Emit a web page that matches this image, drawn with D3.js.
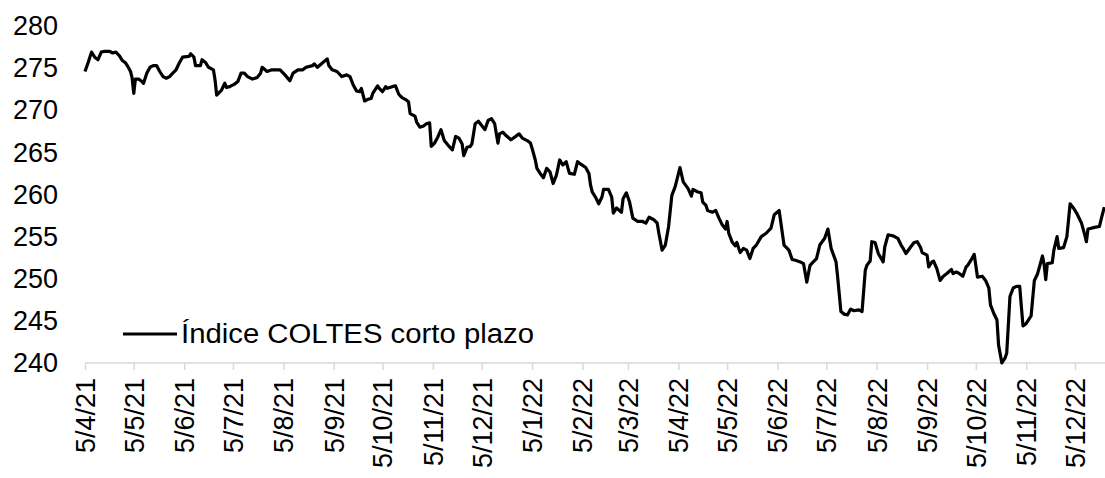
<!DOCTYPE html>
<html><head><meta charset="utf-8">
<script src="https://cdn.jsdelivr.net/npm/d3@7"></script>
<style>body{margin:0;background:#fff} svg text{font-family:"Liberation Sans",Arial,sans-serif;fill:#000}</style>
</head><body><svg id="c" width="1105" height="478"></svg>
<script>
const seriesName = "Índice COLTES corto plazo";
const dates = [
"2021-04-05","2021-04-07","2021-04-09","2021-04-11","2021-04-13","2021-04-15","2021-04-17","2021-04-20","2021-04-22","2021-04-24",
"2021-04-26","2021-04-28","2021-04-30","2021-05-01","2021-05-03","2021-05-04","2021-05-05","2021-05-06","2021-05-08","2021-05-10",
"2021-05-11","2021-05-13","2021-05-15","2021-05-17","2021-05-19","2021-05-21","2021-05-23","2021-05-25","2021-05-27","2021-05-29",
"2021-05-31","2021-06-02","2021-06-04","2021-06-08","2021-06-09","2021-06-11","2021-06-12","2021-06-15","2021-06-16","2021-06-18",
"2021-06-20","2021-06-23","2021-06-24","2021-06-25","2021-06-28","2021-06-30","2021-07-01","2021-07-03","2021-07-06","2021-07-08",
"2021-07-10","2021-07-12","2021-07-14","2021-07-17","2021-07-20","2021-07-22","2021-07-23","2021-07-26","2021-07-29","2021-08-03",
"2021-08-06","2021-08-09","2021-08-11","2021-08-14","2021-08-17","2021-08-19","2021-08-23","2021-08-24","2021-08-26","2021-08-29",
"2021-09-01","2021-09-02","2021-09-04","2021-09-07","2021-09-10","2021-09-13","2021-09-15","2021-09-17","2021-09-19","2021-09-21",
"2021-09-22","2021-09-24","2021-09-26","2021-09-28","2021-09-29","2021-10-02","2021-10-03","2021-10-05","2021-10-07","2021-10-08",
"2021-10-11","2021-10-13","2021-10-15","2021-10-17","2021-10-19","2021-10-21","2021-10-22","2021-10-25","2021-10-26","2021-10-28",
"2021-10-30","2021-11-01","2021-11-03","2021-11-04","2021-11-06","2021-11-08","2021-11-10","2021-11-12","2021-11-15","2021-11-17",
"2021-11-19","2021-11-21","2021-11-23","2021-11-24","2021-11-26","2021-11-28","2021-11-29","2021-12-01","2021-12-03","2021-12-05",
"2021-12-07","2021-12-09","2021-12-11","2021-12-13","2021-12-15","2021-12-16","2021-12-18","2021-12-20","2021-12-23","2021-12-26",
"2021-12-28","2021-12-30","2022-01-02","2022-01-04","2022-01-05","2022-01-07","2022-01-08","2022-01-10","2022-01-12","2022-01-14",
"2022-01-16","2022-01-18","2022-01-20","2022-01-22","2022-01-24","2022-01-26","2022-01-28","2022-01-31","2022-02-02","2022-02-04",
"2022-02-07","2022-02-09","2022-02-10","2022-02-11","2022-02-13","2022-02-15","2022-02-17","2022-02-18","2022-02-21","2022-02-23",
"2022-02-24","2022-02-26","2022-03-01","2022-03-02","2022-03-04","2022-03-06","2022-03-08","2022-03-11","2022-03-14","2022-03-16",
"2022-03-18","2022-03-21","2022-03-23","2022-03-24","2022-03-26","2022-03-28","2022-03-30","2022-04-01","2022-04-03","2022-04-06",
"2022-04-08","2022-04-11","2022-04-13","2022-04-14","2022-04-17","2022-04-19","2022-04-20","2022-04-22","2022-04-23","2022-04-26",
"2022-04-28","2022-04-30","2022-05-02","2022-05-04","2022-05-05","2022-05-06","2022-05-08","2022-05-10","2022-05-11","2022-05-13",
"2022-05-15","2022-05-17","2022-05-19","2022-05-21","2022-05-23","2022-05-26","2022-05-29","2022-06-01","2022-06-03","2022-06-06",
"2022-06-09","2022-06-12","2022-06-14","2022-06-16","2022-06-19","2022-06-21","2022-06-23","2022-06-25","2022-06-27","2022-06-29",
"2022-07-01","2022-07-04","2022-07-06","2022-07-08","2022-07-11","2022-07-12","2022-07-14","2022-07-16","2022-07-18","2022-07-20",
"2022-07-22","2022-07-25","2022-07-27","2022-07-29","2022-07-30","2022-08-01","2022-08-02","2022-08-04","2022-08-06","2022-08-09",
"2022-08-10","2022-08-12","2022-08-15","2022-08-18","2022-08-20","2022-08-21","2022-08-23","2022-08-26","2022-08-28","2022-08-30",
"2022-09-01","2022-09-02","2022-09-05","2022-09-06","2022-09-08","2022-09-09","2022-09-11","2022-09-13","2022-09-15","2022-09-17",
"2022-09-20","2022-09-21","2022-09-23","2022-09-25","2022-09-27","2022-09-29","2022-09-30","2022-10-02","2022-10-04","2022-10-06",
"2022-10-09","2022-10-11","2022-10-13","2022-10-14","2022-10-16","2022-10-18","2022-10-19","2022-10-21","2022-10-23","2022-10-24",
"2022-10-26","2022-10-28","2022-10-30","2022-11-01","2022-11-02","2022-11-03","2022-11-05","2022-11-08","2022-11-10","2022-11-12",
"2022-11-15","2022-11-16","2022-11-17","2022-11-18","2022-11-21","2022-11-22","2022-11-24","2022-11-25","2022-11-28","2022-11-30",
"2022-12-02","2022-12-04","2022-12-06","2022-12-09","2022-12-11","2022-12-12","2022-12-13","2022-12-15","2022-12-17","2022-12-20",
"2022-12-21","2022-12-23"];
const values = [
274.6,275.7,276.9,276.3,276.0,276.9,277.0,277.0,276.8,276.9,
276.5,275.9,275.6,275.3,274.6,273.8,272.0,273.7,273.7,273.4,
273.2,274.4,275.1,275.3,275.3,274.6,274.0,273.8,274.0,274.4,
274.8,275.6,276.3,276.4,276.7,276.3,275.3,275.3,276.0,275.7,
275.1,274.8,273.6,271.8,272.4,273.2,272.7,272.8,273.1,273.4,
274.4,274.4,274.0,273.7,273.9,274.4,275.1,274.6,274.8,274.8,
274.2,273.5,274.4,274.8,274.8,275.1,275.3,275.5,275.1,275.6,
276.1,275.3,274.8,274.6,274.0,274.2,274.0,273.0,272.3,272.2,
272.6,271.1,271.3,271.4,272.0,272.9,272.6,272.2,272.8,272.6,
272.8,272.9,271.9,271.5,271.3,271.0,269.6,269.3,268.6,268.0,
268.1,268.4,268.5,265.7,266.1,266.8,267.7,266.4,265.7,265.3,
266.9,266.7,266.0,264.6,265.6,265.7,266.0,268.4,268.7,268.2,
267.7,268.8,269.0,268.4,266.1,267.2,267.4,267.0,266.5,266.9,
267.2,266.7,266.4,266.1,265.5,264.1,263.1,262.5,262.0,263.1,
262.7,261.3,262.3,264.1,263.5,263.9,262.5,262.4,263.9,263.6,
263.2,262.5,261.1,260.3,259.7,258.9,259.7,260.6,260.6,259.7,
257.8,258.4,257.9,259.5,260.2,259.1,257.2,256.8,256.8,256.6,
257.3,257.0,256.6,255.4,253.4,254.0,256.2,259.9,260.9,263.2,
261.5,260.7,259.8,260.6,260.3,260.2,259.1,258.7,258.1,257.9,
258.1,257.2,256.4,255.9,256.8,255.4,254.4,253.9,254.3,253.1,
253.6,253.4,252.4,253.6,254.0,255.0,255.4,256.0,257.6,258.1,
254.0,253.4,252.3,252.2,252.0,251.8,249.6,251.6,252.0,252.4,
254.0,254.8,255.9,253.6,252.0,250.2,246.1,245.8,245.7,246.4,
246.2,246.3,246.1,251.0,251.6,252.1,254.4,254.3,253.0,252.0,
253.8,255.2,255.1,254.8,254.0,253.7,253.0,253.8,254.3,254.4,
253.7,253.1,252.8,251.4,252.0,252.1,251.2,249.8,250.3,250.6,
251.1,250.6,250.8,250.6,250.3,251.4,251.6,252.2,252.9,250.2,
250.3,249.8,248.9,246.9,245.9,245.1,242.1,240.0,240.6,241.2,
247.9,248.9,249.1,249.1,246.7,244.4,244.7,245.6,249.8,250.6,
252.7,251.7,249.9,251.8,251.9,253.4,255.0,253.6,253.7,255.0,
258.9,258.4,257.8,256.6,255.2,254.4,255.9,256.0,256.1,256.2,
257.0,258.5];
const xTickDates = ["2021-04-05","2021-05-05","2021-06-05","2021-07-05","2021-08-05","2021-09-05","2021-10-05",
  "2021-11-05","2021-12-05","2022-01-05","2022-02-05","2022-03-05","2022-04-05","2022-05-05","2022-06-05",
  "2022-07-05","2022-08-05","2022-09-05","2022-10-05","2022-11-05","2022-12-05"];
const xTickLabels = ["5/4/21","5/5/21","5/6/21","5/7/21","5/8/21","5/9/21","5/10/21","5/11/21","5/12/21",
  "5/1/22","5/2/22","5/3/22","5/4/22","5/5/22","5/6/22","5/7/22","5/8/22","5/9/22","5/10/22","5/11/22","5/12/22"];
const yTicks = [240,245,250,255,260,265,270,275,280];

const parse = d3.timeParse("%Y-%m-%d");
const data = dates.map((d,i)=>({date:parse(d), value:values[i]}));
const tickDates = xTickDates.map(parse);

const svg = d3.select("#c");
const W = 1105, plotLeft = 85, axisY = 363, plotTop = 26;
const x = d3.scaleTime().domain([tickDates[0], tickDates[tickDates.length-1]]).range([plotLeft, 1075]);
const y = d3.scaleLinear().domain([240,280]).range([axisY, plotTop]);

svg.append("line").attr("x1", plotLeft).attr("x2", W).attr("y1", axisY).attr("y2", axisY)
  .attr("stroke", "#d9d9d9").attr("stroke-width", 1.5);

const xAxis = d3.axisBottom(x).tickValues(tickDates)
  .tickFormat((d,i)=>xTickLabels[i]).tickSize(7).tickSizeOuter(0);
const gx = svg.append("g").attr("transform", `translate(0,${axisY})`).call(xAxis);
gx.select(".domain").remove();
gx.selectAll(".tick line").attr("stroke", "#d9d9d9").attr("stroke-width", 1.5);
gx.selectAll(".tick text")
  .attr("transform", "rotate(-90)")
  .attr("x", -15).attr("y", 0).attr("dy", "0.35em")
  .attr("text-anchor", "end")
  .style("font-size", "27px").style("font-family", '"Liberation Sans", Arial, sans-serif').attr("fill", "#000");

const yAxis = d3.axisLeft(y).tickValues(yTicks).tickSize(0).tickPadding(0);
const gy = svg.append("g").attr("transform", "translate(58,0)").call(yAxis);
gy.select(".domain").remove();
gy.selectAll(".tick text").style("font-size", "27px")
  .style("font-family", '"Liberation Sans", Arial, sans-serif').attr("fill", "#000");

const line = d3.line().x(d=>x(d.date)).y(d=>y(d.value));
svg.append("path").datum(data).attr("d", line)
  .attr("fill", "none").attr("stroke", "#000").attr("stroke-width", 3.2)
  .attr("stroke-linejoin", "round");

const lg = svg.append("g");
lg.append("line").attr("x1", 123).attr("x2", 177).attr("y1", 334).attr("y2", 334)
  .attr("stroke", "#000").attr("stroke-width", 3.2);
lg.append("text").attr("x", 181).attr("y", 343).text(seriesName)
  .style("font-size", "27px").attr("textLength", 353).attr("lengthAdjust", "spacingAndGlyphs");
</script></body></html>
